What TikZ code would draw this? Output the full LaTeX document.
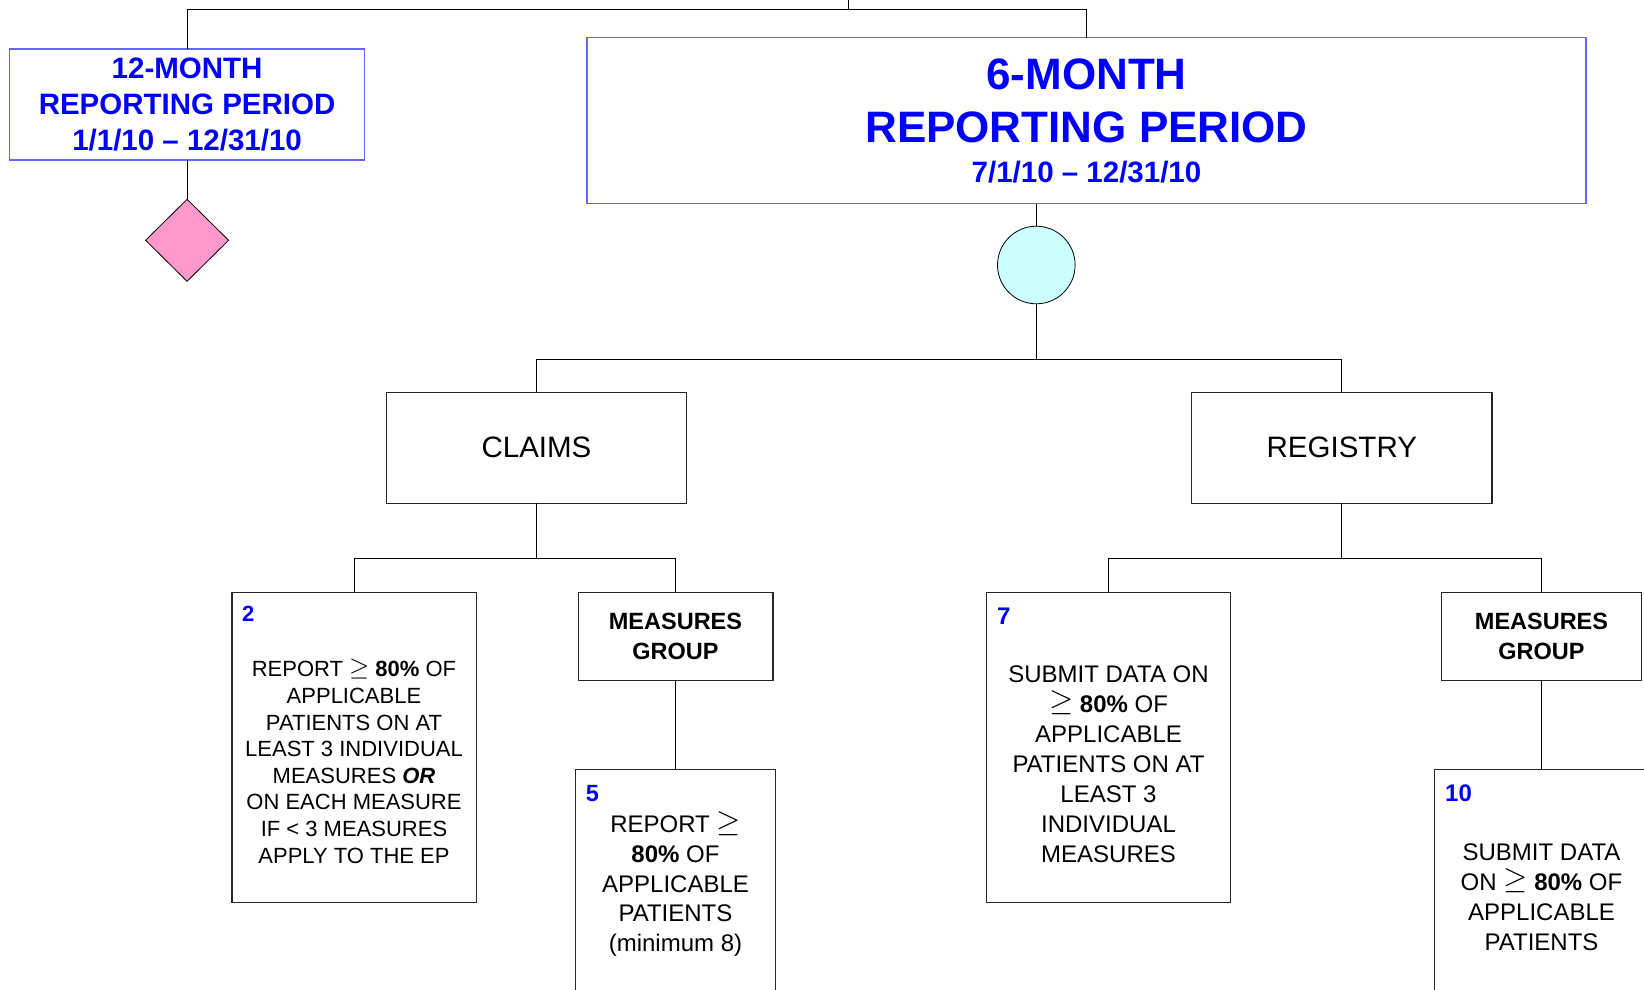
\documentclass[tikz,border=0pt]{standalone}
\usepackage{fontspec}
\usepackage{graphicx}
\setmainfont{Liberation Sans}
\usetikzlibrary{positioning,shapes.geometric}
\definecolor{mytext}{RGB}{0,0,255}
\definecolor{myframe}{RGB}{102,102,255}
\definecolor{mypink}{RGB}{255,153,204}
\definecolor{mycyan}{RGB}{204,255,255}
\newcommand{\gesign}{\raisebox{0.15ex}[0pt][0pt]{\scalebox{1.25}{$\geq$}}}

\begin{document}
\begin{tikzpicture}[x=1pt, y=1pt,
  period/.style={draw=myframe, line width=1.5pt, fill=white, inner sep=0pt, outer sep=0pt, align=flush center, text=mytext},
  branch/.style={draw=black!85, line width=1.3pt, fill=white, inner sep=0pt, outer sep=0pt, align=flush center},
  reqbox/.style={branch, minimum width=244.3pt, minimum height=310pt},
  reqno/.style={inner sep=0pt, anchor=base west, text=mytext},
  reqtext/.style={inner sep=0pt, anchor=north, align=flush center, text width=240pt},
  link/.style={line width=1pt, draw=black}]

\useasboundingbox (0,0) rectangle (1644,-989);
\clip (0,0) rectangle (1644,-989);

% reporting periods
\node[period, minimum width=355pt, minimum height=111pt, font=\fontsize{29.5}{35.8}\selectfont\bfseries] at (187.1,-104.5)
(m12) {12-MONTH\\ REPORTING PERIOD\\ 1/1/10 – 12/31/10};
\node[period, minimum width=999pt, minimum height=166pt, text width=990pt, font=\fontsize{44}{52.7}\selectfont\bfseries] at (1086.5,-120.7)
(m6) {6-MONTH\\ REPORTING PERIOD\\[-12.7pt] {\fontsize{29.5}{36}\selectfont 7/1/10 – 12/31/10}};

% decision marks
\node[diamond, draw=black, line width=0.8pt, fill=mypink, inner sep=0pt, outer sep=0pt, minimum width=83pt, minimum height=82pt, below=39.3pt of m12]
(dia) {};
\node[circle, draw=black, line width=0.8pt, fill=mycyan, inner sep=0pt, outer sep=0pt, minimum size=77.6pt] at (1036.3,-265)
(circ) {};

% claims and registry
\node[branch, minimum width=300pt, minimum height=111pt, font=\fontsize{29.5}{35}\selectfont] at (536.5,-447.8)
(claims) {CLAIMS};
\node[branch, minimum width=300.5pt, minimum height=111pt, font=\fontsize{29.5}{35}\selectfont] at (1341.8,-447.8)
(registry) {REGISTRY};

% claims options
\node[reqbox] at (354,-747.3) (req2) {};
\node[reqno, font=\fontsize{22}{25}\selectfont\bfseries] at ([shift={(10pt,-29.4pt)}]req2.north west) (req2n) {2};
\node[reqtext, font=\fontsize{22}{26.6}\selectfont] at (354,-661.3)
(req2t) {REPORT \gesign{} \textbf{80\%} OF\\ APPLICABLE\\ PATIENTS ON AT\\ LEAST 3 INDIVIDUAL\\ MEASURES \textbf{\textit{OR}}\\ ON EACH MEASURE\\ IF < 3 MEASURES\\ APPLY TO THE EP};

\node[branch, minimum width=194.7pt, minimum height=88.4pt, font=\fontsize{23.5}{30}\selectfont\bfseries] at (675.5,-636.5)
(mgc) {MEASURES\\ GROUP};
\node[branch, minimum width=199.6pt, minimum height=300pt, below=88.6pt of mgc] (req5) {};
\node[reqno, font=\fontsize{23.5}{27}\selectfont\bfseries] at ([shift={(10pt,-32.4pt)}]req5.north west) (req5n) {5};
\node[reqtext, font=\fontsize{24}{29.6}\selectfont] at (675.5,-816)
(req5t) {REPORT \gesign\\ \textbf{80\%} OF\\ APPLICABLE\\ PATIENTS\\ (minimum 8)};

% registry options
\node[reqbox] at (1108.5,-747.3) (req7) {};
\node[reqno, font=\fontsize{24}{28}\selectfont\bfseries] at ([shift={(10.5pt,-31.7pt)}]req7.north west) (req7n) {7};
\node[reqtext, font=\fontsize{24}{29.9}\selectfont] at (1108.5,-665.8)
(req7t) {SUBMIT DATA ON\\ \gesign{} \textbf{80\%} OF\\ APPLICABLE\\ PATIENTS ON AT\\ LEAST 3\\ INDIVIDUAL\\ MEASURES};

\node[branch, minimum width=199.9pt, minimum height=88.4pt, font=\fontsize{23.5}{30}\selectfont\bfseries] at (1541.5,-636.5)
(mgr) {MEASURES\\ GROUP};
\node[branch, minimum width=214.2pt, minimum height=300pt, below=88.6pt of mgr] (req10) {};
\node[reqno, font=\fontsize{24}{28}\selectfont\bfseries] at ([shift={(10.6pt,-32.4pt)}]req10.north west) (req10n) {10};
\node[reqtext, font=\fontsize{24}{30}\selectfont] at (1541.5,-843.5)
(req10t) {SUBMIT DATA\\ ON \gesign{} \textbf{80\%} OF\\ APPLICABLE\\ PATIENTS};

% connectors
\coordinate (top) at (848.3,0);
\coordinate (topj) at (848.3,-9.3);
\draw[link] (top) -- (topj);
\draw[link] (m12.north) |- (topj) -| (m6.north);
\draw[link] (m12.south) -- (dia.north);
\draw[link] (circ.north) -- (circ.north |- m6.south);
\coordinate (mid) at (1036.3,-359.3);
\draw[link] (circ.south) -- (mid);
\draw[link] (claims.north) |- (mid) -| (registry.north);
\draw[link] (claims.south) -- ++(0,-55) coordinate (cj);
\draw[link] (req2.north) |- (cj) -| (mgc.north);
\draw[link] (registry.south) -- ++(0,-55) coordinate (rj);
\draw[link] (req7.north) |- (rj) -| (mgr.north);
\draw[link] (mgc.south) -- (req5.north);
\draw[link] (mgr.south) -- (req10.north);

\end{tikzpicture}
\end{document}
